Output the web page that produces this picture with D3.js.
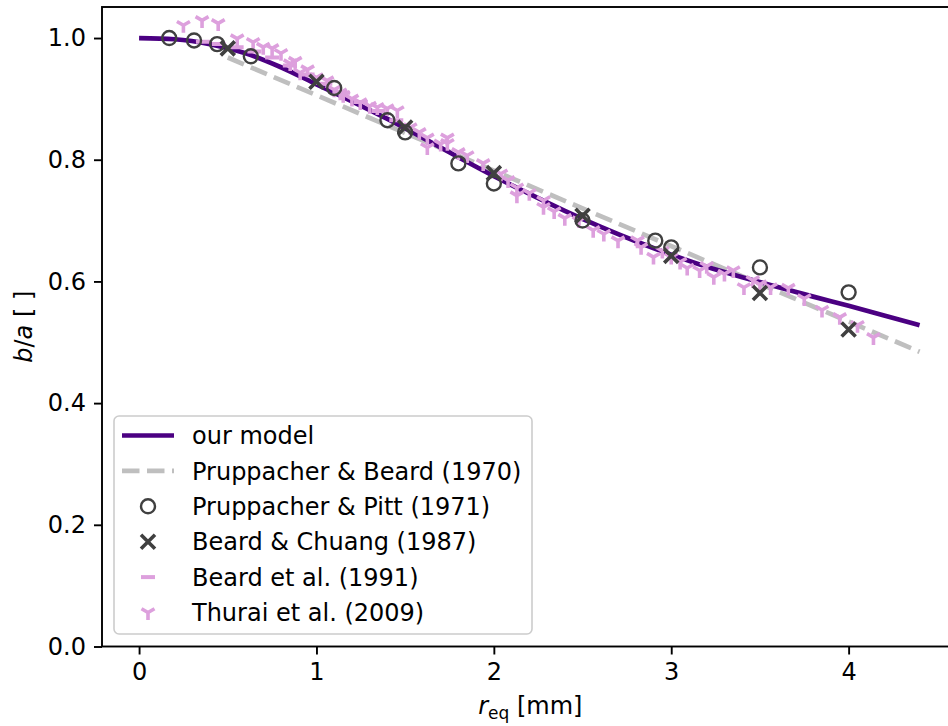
<!DOCTYPE html>
<html>
<head>
<meta charset="utf-8">
<script src="https://cdn.jsdelivr.net/npm/d3@7"></script>
<style>
  html, body { margin: 0; padding: 0; background: #fff; }
  svg { display: block; }
  text { font-family: "DejaVu Sans", sans-serif; }
</style>
</head>
<body>
<svg id="chart" width="948" height="726"></svg>
<script>
// ---------------- data ----------------
const xTicks = [0, 1, 2, 3, 4];
const yTicks = [0.0, 0.2, 0.4, 0.6, 0.8, 1.0];

// our model
const modelR  = [0, 0.2, 0.4, 0.6, 0.8, 1.0, 1.2, 1.4, 1.6, 1.8, 2.0, 2.2, 2.4, 2.6, 2.8, 3.0, 3.2, 3.4, 3.6, 3.8, 4.0, 4.2, 4.4];
const modelBA = [1.0, 0.998, 0.990, 0.975, 0.952, 0.924, 0.896, 0.867, 0.836, 0.804, 0.773, 0.744, 0.716, 0.690, 0.666, 0.644, 0.624, 0.607, 0.591, 0.575, 0.560, 0.544, 0.528];

// Pruppacher & Beard (1970)
const pbR  = [0.5, 4.4];
const pbBA = [0.968, 0.4844];

// Pruppacher & Pitt (1971)
const ppR  = [0.17, 0.31, 0.44, 0.63, 1.1, 1.4, 1.5, 1.8, 2.0, 2.5, 2.91, 3.0, 3.5, 4.0];
const ppBA = [1.000, 0.996, 0.990, 0.970, 0.918, 0.865, 0.845, 0.794, 0.761, 0.700, 0.667, 0.656, 0.623, 0.582];

// Beard & Chuang (1987)
const bcR  = [0.5, 1.0, 1.5, 2.0, 2.5, 3.0, 3.5, 4.0];
const bcBA = [0.983, 0.928, 0.853, 0.778, 0.708, 0.642, 0.581, 0.521];

// Beard et al. (1991)
const b91R  = [0.36, 0.45, 0.55, 0.65, 0.75, 0.85, 0.95, 1.05, 1.15, 1.25, 1.35, 1.45];
const b91BA = [0.994, 0.990, 0.985, 0.978, 0.968, 0.955, 0.940, 0.925, 0.910, 0.895, 0.880, 0.865];

// Thurai et al. (2009)
const thR = [0.25, 0.355, 0.446, 0.553, 0.643, 0.70, 0.75, 0.80, 0.852, 0.88, 0.908, 0.95, 1.0, 1.06, 1.1, 1.134,
             1.151, 1.20, 1.247, 1.30, 1.343, 1.399, 1.456, 1.529, 1.58, 1.625, 1.625, 1.70, 1.738, 1.738, 1.80, 1.85, 1.94, 2.04, 2.08, 2.13, 2.13, 2.2,
             2.28, 2.28, 2.34, 2.40, 2.48, 2.56, 2.62, 2.70, 2.81, 2.83, 2.90, 2.95, 3.00, 3.05, 3.09, 3.16, 3.20, 3.24, 3.30, 3.35, 3.41,
             3.46, 3.50, 3.56, 3.66, 3.75, 3.85, 3.95, 4.05, 4.14];
const thBA = [1.021, 1.029, 1.024, 0.999, 0.993, 0.985, 0.983, 0.975, 0.958, 0.962, 0.943, 0.948, 0.935, 0.930, 0.915, 0.910,
              0.906, 0.900, 0.894, 0.888, 0.886, 0.884, 0.881, 0.853, 0.845, 0.836, 0.820, 0.826, 0.836, 0.827, 0.812, 0.807, 0.794, 0.777, 0.766, 0.754, 0.741, 0.745,
              0.733, 0.722, 0.715, 0.704, 0.700, 0.684, 0.678, 0.667, 0.667, 0.656, 0.640, 0.650, 0.640, 0.632, 0.622, 0.618, 0.625, 0.607, 0.612, 0.618, 0.590,
              0.602, 0.595, 0.590, 0.589, 0.572, 0.553, 0.541, 0.528, 0.508];

const legendLabels = ["our model", "Pruppacher & Beard (1970)", "Pruppacher & Pitt (1971)",
                      "Beard & Chuang (1987)", "Beard et al. (1991)", "Thurai et al. (2009)"];

// ---------------- styles ----------------
const C_MODEL = "#4b0082", C_PB = "#bfbfbf", C_DARK = "#404040", C_PLUM = "#dda0dd";
const FS = 24;

const svg = d3.select("#chart");
const L = 102, R = 958.6, T = 7, B = 646.5;
const x = d3.scaleLinear().domain([-0.209, 4.62]).range([L, R]);
const y = d3.scaleLinear().domain([0, 1.051]).range([B, T]);

svg.append("defs").append("clipPath").attr("id", "clip")
  .append("rect").attr("x", L).attr("y", T).attr("width", R - L).attr("height", B - T);

const plot = svg.append("g").attr("clip-path", "url(#clip)");
const zip = (a, b) => a.map((v, i) => [v, b[i]]);
const line = d3.line().x(d => x(d[0])).y(d => y(d[1])).curve(d3.curveMonotoneX);

// Pruppacher & Beard dashed
plot.append("path").datum(zip(pbR, pbBA)).attr("d", line)
  .attr("fill", "none").attr("stroke", C_PB).attr("stroke-width", 4.7)
  .attr("stroke-dasharray", "17.5,7.5");

// model
plot.append("path").datum(zip(modelR, modelBA)).attr("d", line)
  .attr("fill", "none").attr("stroke", C_MODEL).attr("stroke-width", 4.7);

// marker drawing helpers
function circleM(g, cx, cy) {
  g.append("circle").attr("cx", cx).attr("cy", cy).attr("r", 7)
    .attr("fill", "none").attr("stroke", C_DARK).attr("stroke-width", 2.4);
}
function crossM(g, cx, cy) {
  const s = 7;
  g.append("path").attr("d", `M${cx-s},${cy-s}L${cx+s},${cy+s}M${cx-s},${cy+s}L${cx+s},${cy-s}`)
    .attr("stroke", C_DARK).attr("stroke-width", 3.6).attr("fill", "none");
}
function dashM(g, cx, cy) {
  g.append("path").attr("d", `M${cx-7},${cy}L${cx+7},${cy}`)
    .attr("stroke", C_PLUM).attr("stroke-width", 4).attr("fill", "none");
}
function triM(g, cx, cy) {
  const r = 7.5;
  g.append("path").attr("d",
    `M${cx},${cy}L${cx},${cy+r}M${cx},${cy}L${cx-r*0.866},${cy-r*0.5}M${cx},${cy}L${cx+r*0.866},${cy-r*0.5}`)
    .attr("stroke", C_PLUM).attr("stroke-width", 3.6).attr("fill", "none");
}

const gB91 = plot.append("g");
b91R.forEach((r, i) => dashM(gB91, x(r), y(b91BA[i])));
const gTh = plot.append("g");
thR.forEach((r, i) => triM(gTh, x(r), y(thBA[i])));
const gPP = plot.append("g");
ppR.forEach((r, i) => circleM(gPP, x(r), y(ppBA[i])));
const gBC = plot.append("g");
bcR.forEach((r, i) => crossM(gBC, x(r), y(bcBA[i])));

// ---------------- axes ----------------
const xAxis = svg.append("g").attr("transform", `translate(0,${B})`)
  .call(d3.axisBottom(x).tickValues(xTicks).tickFormat(d3.format("d")).tickSize(8).tickPadding(8).tickSizeOuter(0));
const yAxis = svg.append("g").attr("transform", `translate(${L},0)`)
  .call(d3.axisLeft(y).tickValues(yTicks).tickFormat(d3.format(".1f")).tickSize(8).tickPadding(8).tickSizeOuter(0));
[xAxis, yAxis].forEach(a => {
  a.select(".domain").remove();
  a.selectAll(".tick line").attr("stroke", "#000").attr("stroke-width", 1.9);
  a.selectAll(".tick text").attr("font-size", FS).attr("fill", "#000")
    .attr("font-family", "DejaVu Sans");
});

// spines
svg.append("rect").attr("x", L).attr("y", T).attr("width", R - L).attr("height", B - T)
  .attr("fill", "none").attr("stroke", "#000").attr("stroke-width", 1.9);

// axis labels
const xl = svg.append("text").attr("x", (L + R) / 2).attr("y", 714)
  .attr("text-anchor", "middle").attr("font-size", FS);
xl.append("tspan").attr("font-style", "italic").text("r");
xl.append("tspan").attr("font-size", 17).attr("dy", 5).text("eq");
xl.append("tspan").attr("dy", -5).text(" [mm]");

const yl = svg.append("text").attr("transform", `translate(32,${(T + B) / 2}) rotate(-90)`)
  .attr("text-anchor", "middle").attr("font-size", FS);
yl.append("tspan").attr("font-style", "italic").text("b");
yl.append("tspan").text("/");
yl.append("tspan").attr("font-style", "italic").text("a");
yl.append("tspan").text(" [ ]");

// ---------------- legend ----------------
const lg = svg.append("g");
lg.append("rect").attr("x", 114).attr("y", 416).attr("width", 418).attr("height", 218)
  .attr("rx", 5).attr("fill", "#fff").attr("fill-opacity", 0.8)
  .attr("stroke", "#cccccc").attr("stroke-width", 1.6);
const rowY = i => 435.5 + i * 35.4;
const hx0 = 122, hx1 = 174, hxc = 148;
lg.append("path").attr("d", `M${hx0},${rowY(0)}L${hx1},${rowY(0)}`)
  .attr("stroke", C_MODEL).attr("stroke-width", 4.7);
lg.append("path").attr("d", `M${hx0},${rowY(1)}L${hx1},${rowY(1)}`)
  .attr("stroke", C_PB).attr("stroke-width", 4.7).attr("stroke-dasharray", "17.5,7.5");
circleM(lg, hxc, rowY(2));
crossM(lg, hxc, rowY(3));
dashM(lg, hxc, rowY(4));
triM(lg, hxc, rowY(5));
legendLabels.forEach((t, i) => {
  lg.append("text").attr("x", 192).attr("y", rowY(i)).attr("dy", "0.36em")
    .attr("font-size", FS).attr("fill", "#000").text(t);
});
</script>
</body>
</html>
